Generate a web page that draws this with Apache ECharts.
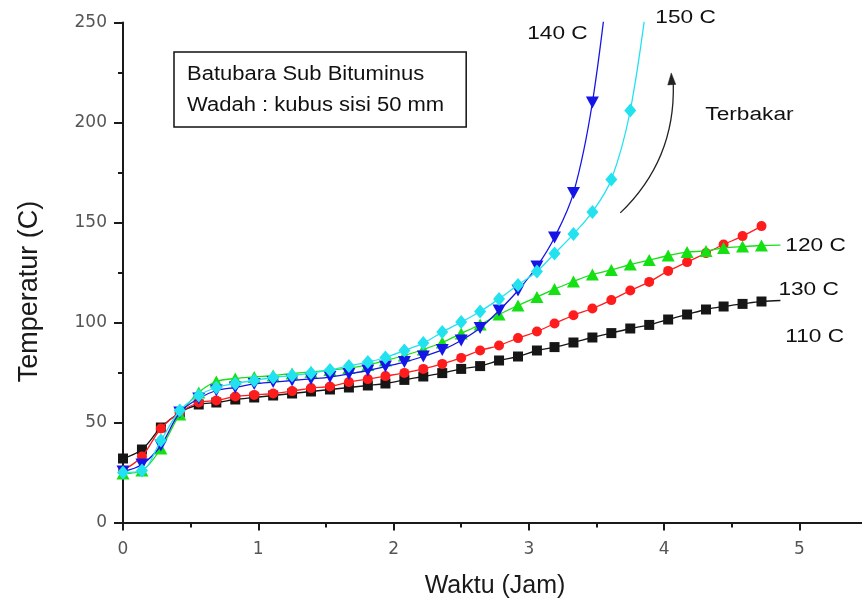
<!DOCTYPE html>
<html>
<head>
<meta charset="utf-8">
<script src="https://cdn.jsdelivr.net/npm/echarts@6/dist/echarts.min.js"></script>
<style>
html,body{margin:0;padding:0;background:#fff;}
#chart{width:862px;height:605px;}
</style>
</head>
<body>
<div id="chart"></div>
<script>
// ---- data (time in hours, temperature in C) ----
const timeHours = [0, 0.14, 0.28, 0.42, 0.56, 0.69, 0.83, 0.97, 1.11, 1.25, 1.39, 1.53, 1.67, 1.81, 1.94, 2.08, 2.22, 2.36, 2.5, 2.64, 2.78, 2.92, 3.06, 3.19, 3.33, 3.47, 3.61, 3.75, 3.89, 4.03, 4.17, 4.31, 4.44, 4.58, 4.72];
const temp110 = [32, 36.5, 47.5, 55, 59, 60, 61.5, 62.5, 63.5, 64.5, 65.5, 66.5, 67.5, 68.5, 69.5, 71.3, 73, 74.7, 76.8, 78.2, 81, 83, 86, 87.7, 90, 92.5, 94.7, 97, 98.8, 101.5, 104, 106.5, 108, 109.3, 110.5];
const temp130 = [26, 33, 47, 55, 60, 61, 63, 63.8, 64.5, 65.7, 67.2, 68, 70.2, 71.7, 73.2, 74.8, 76.8, 79.3, 82.3, 86, 88.5, 92.2, 95.5, 99.5, 103.6, 107, 111.2, 116, 120.3, 125.8, 130.2, 134.7, 139, 143.2, 148.2];
const temp120 = [24.5, 26, 37, 54, 65, 70.5, 72, 72.8, 73.5, 74.5, 75.3, 76.2, 77.2, 78.8, 81, 83.5, 86.5, 90, 94.5, 99, 104, 108.5, 112.7, 116.7, 120.5, 124, 126.3, 129, 131.2, 133.5, 135.2, 135.8, 137.3, 138, 138.5];
const temp140 = [25.5, 29, 38.5, 55, 62, 66, 67.5, 69.3, 70.2, 71, 71.8, 72.7, 74.3, 76, 78, 80.2, 83, 86.3, 91, 97.2, 106, 116, 128, 142.5, 164.7, 210, 285];
const temp150 = [25, 26, 41, 56, 63.5, 67.5, 69.5, 71, 72.5, 73.5, 74.7, 76.2, 78.3, 80.2, 82.5, 86, 89.7, 95.2, 100.2, 105.5, 111.8, 118.8, 125.5, 134.5, 144.2, 155.3, 171.5, 206, 270];
// line leader extensions (no marker) drawn past the last point
const tail110 = [4.86, 111];
const tail120 = [4.86, 138.7];

const xTicks = [0, 1, 2, 3, 4, 5];
const yTicks = [0, 50, 100, 150, 200, 250];

// annotation texts (anchored in data units: left edge, vertical middle)
const notes = [
  {text: '140 C', at: [2.988, 244.3]},
  {text: '150 C', at: [3.935, 252.3]},
  {text: 'Terbakar', at: [4.305, 203.8]},
  {text: '120 C', at: [4.896, 138.3]},
  {text: '130 C', at: [4.845, 116.3]},
  {text: '110 C', at: [4.896, 92.8]}
];
const boxLines = ['Batubara Sub Bituminus', 'Wadah : kubus sisi 50 mm'];
const boxCorners = [[0.377, 235.3], [2.537, 197.8]];
const boxTextAt = [[0.473, 223.8], [0.473, 208.3]];
const arrowPath = [[3.676, 154.8], [4.083, 181.3], [4.068, 219.3], [4.053, 224.8]];

function pairs(xs, ys) {
  const out = [];
  for (let i = 0; i < ys.length; i++) {
    const inRange = ys[i] <= 250;
    out.push(inRange ? [xs[i], ys[i]] : {value: [xs[i], ys[i]], symbol: 'none'});
  }
  return out;
}
function withTail(arr, tail) {
  return arr.concat([{value: tail, symbol: 'none'}]);
}

const chart = echarts.init(document.getElementById('chart'), null, {renderer: 'canvas'});

function mkSeries(name, data, color, symbol, size, rotate, z) {
  return {
    name: name, type: 'line', data: data, smooth: 0.35, clip: true,
    symbol: symbol, symbolSize: size, symbolRotate: rotate || 0, showSymbol: true,
    lineStyle: {color: color, width: 1.3},
    itemStyle: {color: color, borderWidth: 0},
    z: z, animation: false
  };
}

const option = {
  animation: false,
  backgroundColor: '#ffffff',
  grid: {left: 123, top: 22.5, bottom: 82.5, right: -5, containLabel: false, outerBoundsMode: 'none'},
  xAxis: {
    type: 'value', min: 0, max: 5.5, interval: 1,
    name: 'Waktu (Jam)', nameLocation: 'middle', nameGap: 51,
    nameTextStyle: {fontFamily: 'Liberation Sans', fontSize: 25, color: '#1a1a1a'},
    axisLine: {show: true, onZero: false, lineStyle: {color: '#1a1a1a', width: 2}},
    axisTick: {show: true, length: 8, lineStyle: {color: '#1a1a1a', width: 2}},
    minorTick: {show: true, splitNumber: 2, length: 5, lineStyle: {color: '#1a1a1a', width: 2}},
    splitLine: {show: false},
    axisLabel: {
      fontFamily: 'DejaVu Sans', fontSize: 17, color: '#555', margin: 19,
      formatter: function (v) { return xTicks.indexOf(v) >= 0 ? String(v) : ''; }
    }
  },
  yAxis: {
    type: 'value', min: 0, max: 250, interval: 50,
    name: 'Temperatur (C)', nameLocation: 'middle', nameGap: 80,
    nameTextStyle: {fontFamily: 'Liberation Sans', fontSize: 27, color: '#1a1a1a', padding: [0, 38, 0, 0]},
    axisLine: {show: true, onZero: false, lineStyle: {color: '#1a1a1a', width: 2}},
    axisTick: {show: true, length: 9, lineStyle: {color: '#1a1a1a', width: 2}},
    minorTick: {show: true, splitNumber: 2, length: 5, lineStyle: {color: '#1a1a1a', width: 2}},
    splitLine: {show: false},
    axisLabel: {
      fontFamily: 'DejaVu Sans', fontSize: 17, color: '#555', margin: 16,
      formatter: function (v) { return yTicks.indexOf(v) >= 0 ? String(v) : ''; }
    }
  },
  series: [
    mkSeries('110 C', withTail(pairs(timeHours, temp110), tail110), '#161616', 'rect', 10, 0, 2),
    mkSeries('130 C', pairs(timeHours, temp130), '#ff1c1c', 'circle', 10, 0, 3),
    mkSeries('120 C', withTail(pairs(timeHours, temp120), tail120), '#14e014', 'triangle', [13, 12], 0, 4),
    mkSeries('140 C', pairs(timeHours, temp140), '#1515e8', 'triangle', [13, 12], 180, 5),
    mkSeries('150 C', pairs(timeHours, temp150), '#22e2f0', 'diamond', [12, 14], 0, 6)
  ]
};
chart.setOption(option);

function px(p) { return chart.convertToPixel({gridIndex: 0}, p); }

const graphics = [];
// annotation labels
notes.forEach(function (n) {
  const p = px(n.at);
  graphics.push({
    type: 'text', x: p[0], y: p[1], scaleX: 1.26, z: 20,
    style: {text: n.text, x: 0, y: 0, fontFamily: 'Liberation Sans', fontSize: 18,
      fill: '#111', textAlign: 'left', textVerticalAlign: 'middle'}
  });
});
// box
const b0 = px(boxCorners[0]), b1 = px(boxCorners[1]);
graphics.push({
  type: 'rect', z: 20,
  shape: {x: b0[0], y: b0[1], width: b1[0] - b0[0], height: b1[1] - b0[1]},
  style: {fill: 'none', stroke: '#111', lineWidth: 1.5}
});
boxLines.forEach(function (t, i) {
  const p = px(boxTextAt[i]);
  graphics.push({
    type: 'text', x: p[0], y: p[1], scaleX: 1.1, z: 20,
    style: {text: t, x: 0, y: 0, fontFamily: 'Liberation Sans', fontSize: 20,
      fill: '#111', textAlign: 'left', textVerticalAlign: 'middle'}
  });
});
// curved arrow
const a0 = px(arrowPath[0]), ac = px(arrowPath[1]), a1 = px(arrowPath[2]), tip = px(arrowPath[3]);
graphics.push({
  type: 'bezierCurve', z: 20,
  shape: {x1: a0[0], y1: a0[1], cpx1: ac[0], cpy1: ac[1], x2: a1[0], y2: a1[1]},
  style: {stroke: '#222', lineWidth: 1.3, fill: 'none'}
});
graphics.push({
  type: 'polygon', z: 21,
  shape: {points: [[tip[0], tip[1]], [tip[0] - 3.5, tip[1] + 12], [tip[0] + 4.5, tip[1] + 11.5]]},
  style: {fill: '#222', stroke: '#222', lineWidth: 0.5}
});
chart.setOption({graphic: graphics});
</script>
</body>
</html>
